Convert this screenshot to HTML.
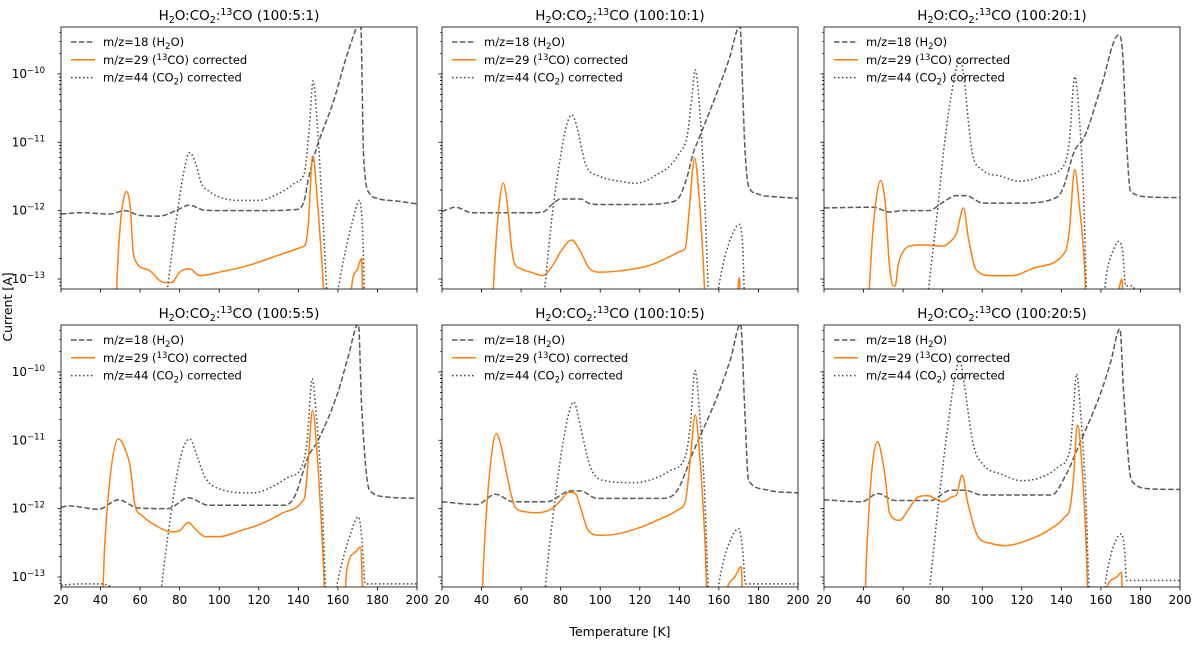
<!DOCTYPE html>
<html><head><meta charset="utf-8">
<style>
html,body{margin:0;padding:0;background:#fff;}
svg{display:block;font-family:"DejaVu Sans","Liberation Sans",sans-serif;}
</style></head>
<body>
<svg id="fig" width="1200" height="647" viewBox="0 0 1200 647" xmlns="http://www.w3.org/2000/svg">
<text x="12" y="307" font-size="12.5" text-anchor="middle" transform="rotate(-90 12 307)">Current [A]</text>
<text x="620" y="636" font-size="12.5" text-anchor="middle">Temperature [K]</text>
</svg>
<script>
const titles = ["(100:5:1)","(100:10:1)","(100:20:1)","(100:5:5)","(100:10:5)","(100:20:5)"];
const xTicks = [20,40,60,80,100,120,140,160,180,200];
const yDecades = [-10,-11,-12,-13];

// log10(current) values
const p1_h2o_T=[20,30,45,52,60,70,78,85,92,100,120,140,143,145,148,158,166,171.5,173,176,180,190,200];
const p1_h2o_v=[-12.05,-12.03,-12.05,-12.0,-12.07,-12.08,-12.0,-11.92,-11.99,-12.0,-12.0,-11.98,-11.85,-11.55,-11.2,-10.38,-9.6,-9.25,-11.2,-11.75,-11.82,-11.86,-11.9];
const p1_co2_T=[20,72,74,78,82,85,88,91,95,100,110,120,130,138,143,145.5,147.5,149.5,152,156,159,163,167,171,172.5,174,200];
const p1_co2_v=[-13.6,-13.6,-13.1,-12.2,-11.45,-11.15,-11.3,-11.6,-11.72,-11.8,-11.85,-11.85,-11.75,-11.6,-11.45,-10.8,-10.1,-10.7,-11.9,-13.6,-13.3,-12.7,-12.2,-11.85,-12.3,-13.6,-13.6];
const p1_co_T=[20,47,48.5,50,51.5,53,55,56.5,58,65,72,76,80,85,90,100,115,130,140,143.5,145,147.3,149.5,152,155,165,167,170,172,173,200];
const p1_co_v=[-14,-14,-12.9,-12.2,-11.85,-11.72,-11.95,-12.6,-12.75,-12.88,-13.05,-13.05,-12.9,-12.85,-12.95,-12.9,-12.8,-12.65,-12.55,-12.5,-12.2,-11.2,-11.8,-12.8,-14,-14,-13.1,-12.85,-12.7,-14,-14];

const p2_h2o_T=[20,27,35,50,65,71,76,80,90,95,100,120,135,140,144,147,150,160,165,170.7,172,173,175,180,190,200];
const p2_h2o_v=[-12.01,-11.95,-12.03,-12.03,-12.03,-12.02,-11.9,-11.83,-11.83,-11.9,-11.91,-11.91,-11.88,-11.8,-11.5,-11.16,-10.94,-10.2,-9.8,-9.3,-10.2,-11.0,-11.64,-11.76,-11.8,-11.82];
const p2_co2_T=[20,70,72,76,80,83,85.6,88,91,93,100,110,118,130,135,140,144,146.5,148,150,152,156,158,162,166,170.5,172,173.5,200];
const p2_co2_v=[-13.6,-13.6,-13.1,-12.0,-11.2,-10.75,-10.6,-10.75,-11.15,-11.35,-11.5,-11.57,-11.6,-11.45,-11.35,-11.16,-10.9,-10.3,-9.94,-10.4,-11.3,-13.6,-13.4,-12.8,-12.4,-12.2,-12.5,-13.6,-13.6];
const p2_co_T=[20,44.5,46,48,51,53,55,56.5,60,65,71,76,80,85.6,90,95,100,110,125,140,143,145,147.7,150,152,154.5,168,169.5,170.3,171,200];
const p2_co_v=[-14,-14,-13.1,-12.2,-11.6,-11.9,-12.5,-12.76,-12.85,-12.9,-12.95,-12.8,-12.6,-12.43,-12.6,-12.86,-12.9,-12.88,-12.8,-12.6,-12.55,-12.0,-11.23,-11.8,-12.7,-14,-14,-13.2,-12.98,-13.3,-14];

const p3_h2o_T=[20,45,53,60,73,80,87,92,97,100,120,138,141,146.6,151.7,160,169,171,173,175,185,200];
const p3_h2o_v=[-11.96,-11.95,-12.02,-12.0,-12.0,-11.88,-11.78,-11.78,-11.85,-11.89,-11.89,-11.8,-11.66,-11.13,-10.92,-10.2,-9.43,-9.7,-11.0,-11.72,-11.8,-11.81];
const p3_co2_T=[20,71,73,77,81,85,88.8,91,93,95,100,110,119,130,141,144,146.8,149,151,153.6,160,163,166,169,171,172.5,174,176,180,200];
const p3_co2_v=[-13.6,-13.6,-13.1,-12.1,-11.0,-10.2,-9.78,-10.1,-10.7,-11.16,-11.4,-11.5,-11.57,-11.5,-11.35,-11.0,-10.04,-10.6,-11.6,-13.6,-13.6,-12.9,-12.6,-12.45,-12.6,-13.1,-13.1,-13.1,-13.6,-13.6];
const p3_co_T=[20,41.5,43,45,48.7,51,53,55,56,57.5,60,63,70,80,84,87,90.5,93,97,105,115,125,142,144,146.8,149,152,153,166,169,170.5,171.5,200];
const p3_co_v=[-14,-14,-13.1,-12.2,-11.56,-11.9,-12.77,-13.1,-13.1,-12.8,-12.6,-12.52,-12.5,-12.52,-12.45,-12.33,-11.96,-12.4,-12.87,-12.95,-12.95,-12.85,-12.6,-12.3,-11.4,-11.9,-13,-14,-14,-13.2,-13.0,-13.3,-14];

const p4_h2o_T=[20,24,39,49,59,74,84.4,94.5,133,138,145,150,160,165,170.4,172,176,185,200];
const p4_h2o_v=[-11.98,-11.96,-12.01,-11.87,-11.99,-12.0,-11.84,-11.95,-11.95,-11.83,-11.24,-11.0,-10.3,-9.8,-9.3,-10.5,-11.73,-11.83,-11.85];
const p4_co2_T=[20,30,40,69,71,75,80,85,89,92.8,100,116.5,135,141.7,144.5,147,149,151.5,155,158,162,166,170.4,172,173.8,176,200];
const p4_co2_v=[-13.12,-13.1,-13.1,-13.6,-13.1,-12.2,-11.3,-10.98,-11.25,-11.54,-11.71,-11.77,-11.54,-11.39,-11.0,-10.1,-10.6,-11.6,-13.6,-13.3,-12.8,-12.4,-12.12,-12.4,-13.1,-13.1,-13.1];
const p4_co_T=[20,40,42,45,49,52,55,57.4,61,67.5,76,80,84.4,88,93,100,111,121.5,131.6,141.8,143.4,145,147.2,149.5,152,155,162,164.5,169.6,171.3,173.8,200];
const p4_co_v=[-14,-14,-12.6,-11.5,-10.98,-11.1,-11.39,-11.95,-12.1,-12.24,-12.34,-12.32,-12.2,-12.3,-12.41,-12.41,-12.32,-12.22,-12.07,-11.9,-11.8,-11.3,-10.56,-11.2,-12.4,-14,-14,-12.9,-12.61,-12.56,-14,-14];

const p5_h2o_T=[20,37.7,47,56,73,85,90,98.4,132,139,147.3,160,166,171,173,175,185,200];
const p5_h2o_v=[-11.9,-11.94,-11.79,-11.9,-11.9,-11.74,-11.74,-11.85,-11.85,-11.73,-11.15,-10.3,-9.8,-9.3,-10.5,-11.59,-11.73,-11.77];
const p5_co2_T=[20,70.6,73,77,82,86.6,90,95,102,117,135.5,143,145.5,148,150,152.5,155.7,157.4,162,166,170,172,173.5,176,200];
const p5_co2_v=[-13.6,-13.6,-12.9,-11.9,-10.9,-10.44,-10.8,-11.39,-11.59,-11.62,-11.44,-11.24,-10.8,-9.98,-10.5,-11.6,-13.6,-13.5,-12.8,-12.45,-12.29,-12.6,-13.1,-13.1,-13.1];
const p5_co_T=[20,39.4,41,44,47.5,50,52,55,57,63,68,75.6,80,84,87.5,90,94,100,108.5,118.7,128.8,139,143,145.5,148,150.5,153,155,165,168,171.3,172.6,200];
const p5_co_v=[-14,-14,-12.8,-11.5,-10.9,-11.1,-11.39,-11.8,-11.98,-12.05,-12.06,-12.0,-11.88,-11.76,-11.78,-11.98,-12.32,-12.39,-12.37,-12.29,-12.17,-12.02,-11.9,-11.3,-10.63,-11.3,-12.5,-14,-13.1,-13.0,-12.85,-14,-14];

const p6_h2o_T=[20,39,47.3,55.8,74,84,91,99.6,135,142.6,148.5,160,165,169.6,171.5,175.5,185,200];
const p6_h2o_v=[-11.87,-11.9,-11.78,-11.88,-11.88,-11.73,-11.73,-11.8,-11.8,-11.49,-11.1,-10.3,-9.85,-9.37,-10.3,-11.59,-11.71,-11.72];
const p6_co2_T=[20,71.8,74,78,83,86,88.6,91,95.4,100,110,119.8,138.4,144.3,146,147.7,149.5,152,155,160.3,164,167,170.4,172,173,176,200];
const p6_co2_v=[-13.6,-13.6,-13.0,-11.9,-10.7,-10.1,-9.83,-10.2,-11.05,-11.34,-11.5,-11.59,-11.39,-11.15,-10.6,-10.03,-10.5,-11.6,-13.6,-13.4,-12.8,-12.5,-12.37,-12.6,-13.05,-13.05,-13.05];
const p6_co_T=[20,39.7,41.5,44,47,50.7,53.2,58.3,62.5,67.5,72.6,76,80,84.4,87,89.8,92.8,97.9,104.6,111.4,123.2,133.3,141.8,144.3,146,148.2,150.5,152.5,154.4,163.7,168,170.4,171.5,200];
const p6_co_v=[-14,-14,-12.7,-11.5,-11.02,-11.49,-12.07,-12.17,-12.02,-11.83,-11.81,-11.85,-11.9,-11.83,-11.8,-11.51,-11.93,-12.41,-12.51,-12.54,-12.46,-12.32,-12.12,-12.0,-11.6,-10.78,-11.4,-12.5,-14,-13.1,-13.0,-12.93,-14,-14];

const h2oT=[p1_h2o_T,p2_h2o_T,p3_h2o_T,p4_h2o_T,p5_h2o_T,p6_h2o_T];
const h2oV=[p1_h2o_v,p2_h2o_v,p3_h2o_v,p4_h2o_v,p5_h2o_v,p6_h2o_v];
const co2T=[p1_co2_T,p2_co2_T,p3_co2_T,p4_co2_T,p5_co2_T,p6_co2_T];
const co2V=[p1_co2_v,p2_co2_v,p3_co2_v,p4_co2_v,p5_co2_v,p6_co2_v];
const coT=[p1_co_T,p2_co_T,p3_co_T,p4_co_T,p5_co_T,p6_co_T];
const coV=[p1_co_v,p2_co_v,p3_co_v,p4_co_v,p5_co_v,p6_co_v];

const NS="http://www.w3.org/2000/svg";
const svg=document.getElementById('fig');
const lefts=[61,442,824], tops=[27,325], W=356, H=262;
const yMax=-9.314, yMin=-13.146, xMin=20, xMax=200;
function mk(tag,attrs,parent){const e=document.createElementNS(NS,tag);for(const k in attrs)e.setAttribute(k,attrs[k]);(parent||svg).appendChild(e);return e;}

function monoPath(xs,ys){
  const n=xs.length; if(n<2) return '';
  const d=[],m=new Array(n);
  for(let i=0;i<n-1;i++) d.push((ys[i+1]-ys[i])/((xs[i+1]-xs[i])||1e-6));
  m[0]=d[0]; m[n-1]=d[n-2];
  for(let i=1;i<n-1;i++){ if(d[i-1]*d[i]<=0) m[i]=0; else { m[i]=(d[i-1]+d[i])/2; const a=m[i]/d[i-1], b=m[i]/d[i]; const s=a*a+b*b; if(s>9){const t=3/Math.sqrt(s); m[i]=t*a*d[i-1];} } }
  let p='M'+xs[0].toFixed(2)+','+ys[0].toFixed(2);
  for(let i=0;i<n-1;i++){const h=(xs[i+1]-xs[i])/3;
    p+=' C'+(xs[i]+h).toFixed(2)+','+(ys[i]+m[i]*h).toFixed(2)+' '+(xs[i+1]-h).toFixed(2)+','+(ys[i+1]-m[i+1]*h).toFixed(2)+' '+xs[i+1].toFixed(2)+','+ys[i+1].toFixed(2);}
  return p;
}

for(let p=0;p<6;p++){
  const col=p%3,row=Math.floor(p/3),L=lefts[col],T0=tops[row];
  const sx=t=>L+(t-xMin)/(xMax-xMin)*W;
  const sy=v=>T0+(yMax-v)/(yMax-yMin)*H;
  const g=mk('g',{});
  
  
  const cp=mk('clipPath',{id:'clip'+p},g);
  mk('rect',{x:L,y:T0,width:W,height:H},cp);
  const title=mk('text',{x:L+W/2,y:T0-7,'font-size':13.5,'text-anchor':'middle'},g);
  
  
  title.innerHTML='H<tspan font-size="9.5" dy="3">2</tspan><tspan dy="-3">O:CO</tspan><tspan font-size="9.5" dy="3">2</tspan><tspan dy="-3">:</tspan><tspan font-size="9.5" dy="-5">13</tspan><tspan dy="5">CO '+titles[p]+'</tspan>';
  for(const dec of yDecades){
    for(let k=1;k<10;k++){
      const v=dec+Math.log10(k);
      if(v<yMin||v>yMax) continue;
      const y=sy(v);
      mk('line',{x1:L,x2:L-(k===1?3.5:2),y1:y,y2:y,stroke:'#000','stroke-width':k===1?0.8:0.6},g);
    }
    for(let k=2;k<10;k++){const v=dec-1+Math.log10(k); if(v<yMin||v>yMax) continue; const y=sy(v); mk('line',{x1:L,x2:L-2,y1:y,y2:y,stroke:'#000','stroke-width':0.6},g);}
    if(col===0&&dec<=yMax&&dec>=yMin){
      const t=mk('text',{x:L-16,y:sy(dec)+4,'font-size':12,'text-anchor':'end'},g);
      
      
      t.innerHTML='10<tspan font-size="8.5" dy="-5">\u2212'+(-dec)+'</tspan>';
    }
  }
  for(const xt of xTicks){
    const x=sx(xt);
    mk('line',{x1:x,x2:x,y1:T0+H,y2:T0+H+3.5,stroke:'#000','stroke-width':0.8},g);
    if(row===1){
      const t=mk('text',{x:x,y:T0+H+17,'font-size':12,'text-anchor':'middle'},g);
      
      
      t.textContent=xt;
    }
  }
  const series=[
    {T:h2oT[p],V:h2oV[p],stroke:'#5a5a5a',dash:'5.5,2.4',name:'h2o-line'},
    {T:coT[p],V:coV[p],stroke:'#ff7f0e',dash:'',name:'co13-line'},
    {T:co2T[p],V:co2V[p],stroke:'#444',dash:'1.5,2.5',name:'co2-line'}];
  const sg=mk('g',{'clip-path':'url(#clip'+p+')'},g);
  for(const s of series){
    const xs=s.T.map(sx), ys=s.V.map(sy);
    const path=mk('path',{d:monoPath(xs,ys),fill:'none',stroke:s.stroke,'stroke-width':1.5,'stroke-dasharray':s.dash},sg);
    
    
  }
  mk('rect',{x:L,y:T0,width:W,height:H,fill:'none',stroke:'#000','stroke-width':0.8},g);
  const lg=mk('g',{},g);
  
  
  const lab=['m/z=18 (H<tspan font-size="8.5" dy="3">2</tspan><tspan dy="-3">O)</tspan>',
    'm/z=29 (<tspan font-size="8.5" dy="-4">13</tspan><tspan dy="4">CO) corrected</tspan>',
    'm/z=44 (CO<tspan font-size="8.5" dy="3">2</tspan><tspan dy="-3">) corrected</tspan>'];
  for(let i=0;i<3;i++){
    const y=T0+15+i*17.8;
    const e=mk('g',{},lg);
    
    
    mk('line',{x1:L+10,x2:L+34,y1:y,y2:y,stroke:series[i].stroke,'stroke-width':1.5,'stroke-dasharray':series[i].dash},e);
    const t=mk('text',{x:L+42,y:y+4,'font-size':11.5},e);
    t.innerHTML=lab[i];
  }
}
</script>
</body></html>
